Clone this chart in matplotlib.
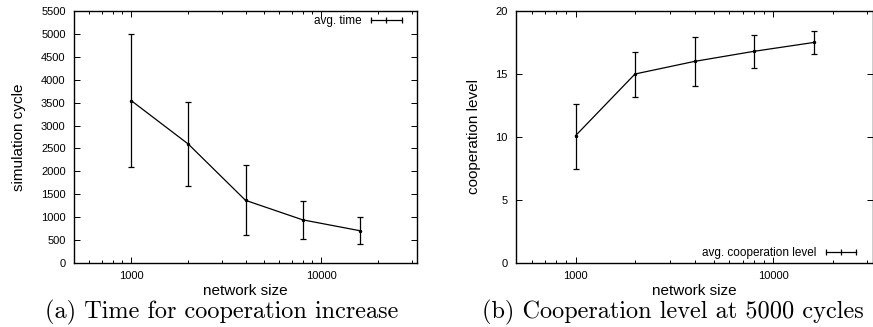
import matplotlib
matplotlib.use("Agg")
import matplotlib.pyplot as plt
from matplotlib.lines import Line2D
from matplotlib.ticker import LogLocator, MultipleLocator, NullFormatter, FixedLocator, FixedFormatter

plt.rcParams['font.family'] = ['Liberation Sans', 'DejaVu Sans']

# -----------------------------
# Data
# -----------------------------
network_size = [1000, 2000, 4000, 8000, 16000]

avg_time = [3545, 2595, 1368, 942, 705]
time_low = [2087, 1688, 603, 522, 412]
time_high = [5008, 3505, 2135, 1360, 998]

avg_coop = [10.1, 15.0, 16.0, 16.8, 17.5]
coop_low = [7.5, 13.2, 14.05, 15.5, 16.55]
coop_high = [12.65, 16.75, 17.9, 18.1, 18.45]

fig = plt.figure(figsize=(8.73, 3.27), dpi=100)
W, H = 873.0, 327.0
ax1 = fig.add_axes([74 / W, 1 - 263 / H, (417 - 74) / W, (263 - 11) / H])
ax2 = fig.add_axes([516 / W, 1 - 263 / H, (873 - 516) / W, (263 - 11) / H])


def style_axis(ax):
    ax.set_xscale('log')
    ax.set_xlim(500, 32000)
    ax.xaxis.set_major_locator(FixedLocator([1000, 10000]))
    ax.xaxis.set_major_formatter(FixedFormatter(['1000', '10000']))
    ax.xaxis.set_minor_locator(LogLocator(base=10, subs=range(2, 10)))
    ax.xaxis.set_minor_formatter(NullFormatter())
    ax.tick_params(which='both', direction='in', top=True, right=True,
                   labelsize=8, width=0.7, pad=6)
    ax.tick_params(which='major', length=4)
    ax.tick_params(which='minor', length=2.5)
    for sp in ax.spines.values():
        sp.set_linewidth(1.0)
    ax.set_xlabel('network size', fontsize=11, labelpad=2)


def draw(ax, y, lo, hi):
    yerr = [[v - l for v, l in zip(y, lo)], [h - v for v, h in zip(y, hi)]]
    ax.errorbar(network_size, y, yerr=yerr, color='black', lw=0.9,
                elinewidth=0.9, capsize=2, capthick=0.9,
                marker='.', markersize=3)


# -----------------------------
# (a) Time for cooperation increase
# -----------------------------
style_axis(ax1)
draw(ax1, avg_time, time_low, time_high)
ax1.set_ylim(0, 5500)
ax1.yaxis.set_major_locator(MultipleLocator(500))
ax1.set_ylabel('simulation cycle', fontsize=11)
ax1.yaxis.set_label_coords((26 - 74) / 343, 0.5)

# -----------------------------
# (b) Cooperation level at 5000 cycles
# -----------------------------
style_axis(ax2)
draw(ax2, avg_coop, coop_low, coop_high)
ax2.set_ylim(0, 20)
ax2.yaxis.set_major_locator(MultipleLocator(5))
ax2.set_ylabel('cooperation level', fontsize=11)
ax2.yaxis.set_label_coords((481 - 516) / 357, 0.5)

# gnuplot style keys: text first, sample with error caps on the right
key_handle = Line2D([], [], color='black', lw=0.9, marker='|',
                    markersize=4, markeredgewidth=0.9)
key_opts = dict(frameon=False, markerfirst=False, numpoints=3, fontsize=8.5,
                handlelength=3.2, handletextpad=0.5, borderaxespad=0,
                borderpad=0)
ax1.legend([key_handle], ['avg. time'], loc='upper right',
           bbox_to_anchor=(0.966, 0.984), **key_opts)
ax2.legend([key_handle], ['avg. cooperation level'], loc='lower right',
           bbox_to_anchor=(0.963, 0.016), **key_opts)

# captions
fig.text(222 / W, 1 - 312 / H, '(a) Time for cooperation increase',
         ha='center', va='center', fontsize=17.5, family='cmr10')
fig.text(673 / W, 1 - 312 / H, '(b) Cooperation level at 5000 cycles',
         ha='center', va='center', fontsize=17.5, family='cmr10')

fig.savefig('out.png', dpi=100)
